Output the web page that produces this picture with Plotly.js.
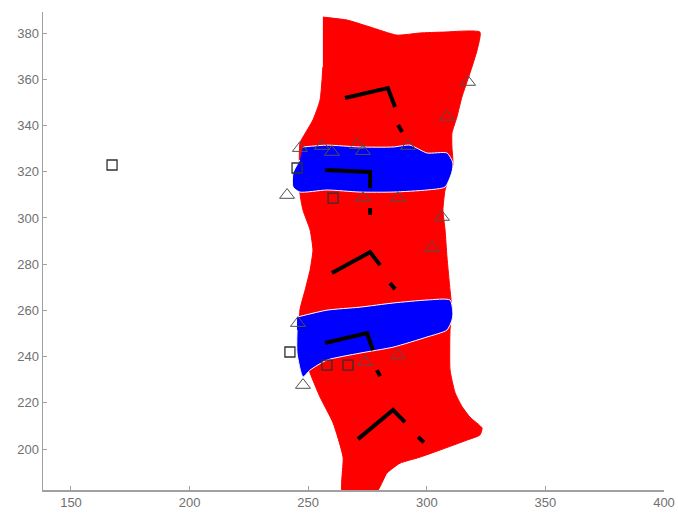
<!DOCTYPE html>
<html>
<head>
<meta charset="utf-8">
<script src="https://cdn.plot.ly/plotly-3.0.1.min.js"></script>
<style>html,body{margin:0;padding:0;background:#fff;}#chart{width:678px;height:516px;}</style>
</head>
<body>
<div id="chart"></div>
<script>
// Vertebra region outline (red)
var redX = [256.2,266.4,276.1,287.4,297.1,306.8,322.4,321.2,318.2,314.8,312.7,310.6,310.6,311.0,307.7,306.8,307.7,308.5,309.8,310.6,309.8,309.8,311.9,314.8,318.2,323.3,322.4,317.0,305.6,297.1,288.7,283.2,278.5,264.5,264.7,260.5,255.0,250.8,246.5,246.5,248.7,250.8,252.0,250.8,247.8,246.5,246.5,247.8,252.0,255.0,256.2];
var redY = [386.9,385.6,382.6,379.1,380.0,380.4,380.4,372.6,362.7,352.3,343.7,336.7,330.7,322.9,312.1,303.4,294.8,283.1,268.8,260.1,251.5,234.2,224.5,218.5,213.8,209.1,206.1,203.9,199.6,196.5,193.9,189.6,181.0,181.0,196.5,211.3,222.5,232.9,247.2,260.1,268.8,277.5,286.1,294.8,303.4,310.8,332.4,335.0,342.4,351.0,365.3];
// Disc regions (blue)
var disc1X = [247.8,257.9,271.8,285.8,292.9,300.1,308.5,311.0,310.6,307.7,300.1,285.8,271.8,257.9,246.5,243.6,243.6,246.5];
var disc1Y = [330.7,331.5,330.7,330.7,331.5,328.1,328.1,323.8,319.9,313.4,312.1,311.2,311.2,312.1,311.2,313.4,319.4,325.1];
var disc2X = [245.3,257.9,271.8,285.8,300.1,309.8,311.0,310.6,308.5,300.1,285.8,271.8,257.9,250.8,247.8,245.3,245.3];
var disc2Y = [257.1,260.1,261.4,263.2,264.5,264.5,258.8,255.8,251.5,248.5,244.1,241.5,238.5,234.2,231.2,241.5,251.5];
// Black axis segments (null separates pieces)
var segX = [265.5,283.6,286.6,null,287.9,289.6,null,257.1,276.1,276.1,null,276.1,276.1,null,260.0,276.1,280.3,null,284.5,286.6,null,257.1,274.8,277.3,null,279.0,280.3,null,271.0,285.8,290.8,null,296.3,298.8];
var segY = [351.9,356.2,348.0,null,340.2,337.2,null,320.7,319.9,312.9,null,304.3,301.3,null,276.2,285.2,279.6,null,271.8,269.2,null,245.9,250.2,242.8,null,234.2,231.6,null,204.3,216.9,211.7,null,205.2,203.0];
// Triangle landmarks
var triX = [317.4,308.5,306.4,302.2,246.5,255.8,260.0,270.6,273.1,292.1,241.1,273.1,287.9,245.7,247.8,274.0,287.9];
var triY = [358.8,343.7,300.4,287.0,330.2,331.1,328.5,331.5,328.9,331.1,309.9,308.6,308.6,254.5,227.7,237.6,240.7];
// Square landmarks
var sqX = [167.3,245.3,260.5,242.3,257.9,266.8];
var sqY = [322.9,321.6,308.6,242.0,236.3,236.3];
var xTicks = [150,200,250,300,350,400];
var yTicks = [200,220,240,260,280,300,320,340,360,380];

var traces = [
  {x: redX, y: redY, type:'scatter', mode:'lines', fill:'toself', fillcolor:'#ff0000', line:{color:'#ff0000', width:1, shape:'spline', smoothing:0.5}, hoverinfo:'skip'},
  {x: disc1X, y: disc1Y, type:'scatter', mode:'lines', fill:'toself', fillcolor:'#0000ff', line:{color:'#ffffff', width:1, shape:'spline', smoothing:0.6}, hoverinfo:'skip'},
  {x: disc2X, y: disc2Y, type:'scatter', mode:'lines', fill:'toself', fillcolor:'#0000ff', line:{color:'#ffffff', width:1, shape:'spline', smoothing:0.6}, hoverinfo:'skip'},
  {x: segX, y: segY, type:'scatter', mode:'lines', line:{color:'#000000', width:4}, connectgaps:false, hoverinfo:'skip'},
  {x: triX, y: triY, type:'scatter', mode:'markers', marker:{symbol:'triangle-up-open', size:13, color:'#505050', line:{width:1, color:'#505050'}}},
  {x: sqX, y: sqY, type:'scatter', mode:'markers', marker:{symbol:'square-open', size:10, color:'#303030', line:{width:1.3, color:'#303030'}}}
];

var layout = {
  width: 678, height: 516,
  margin: {l:43, r:14, t:12, b:26},
  paper_bgcolor:'#ffffff', plot_bgcolor:'#ffffff',
  showlegend:false,
  font:{family:'Arial, Liberation Sans, sans-serif', size:13, color:'#707070'},
  xaxis:{range:[138.2,400], tickvals:xTicks, ticktext:xTicks.map(String), showgrid:false, zeroline:false, showline:true, linecolor:'#a0a0a0', linewidth:1.5, ticks:'inside', ticklen:4, tickcolor:'#a0a0a0', mirror:false, tickfont:{size:13, color:'#707070'}},
  yaxis:{range:[182.3,389.1], tickvals:yTicks, ticktext:yTicks.map(String), showgrid:false, zeroline:false, showline:true, linecolor:'#a0a0a0', linewidth:1.5, ticks:'inside', ticklen:4, tickcolor:'#a0a0a0', mirror:false, tickfont:{size:13, color:'#707070'}}
};

Plotly.newPlot('chart', traces, layout, {displayModeBar:false, staticPlot:true});
</script>
</body>
</html>
